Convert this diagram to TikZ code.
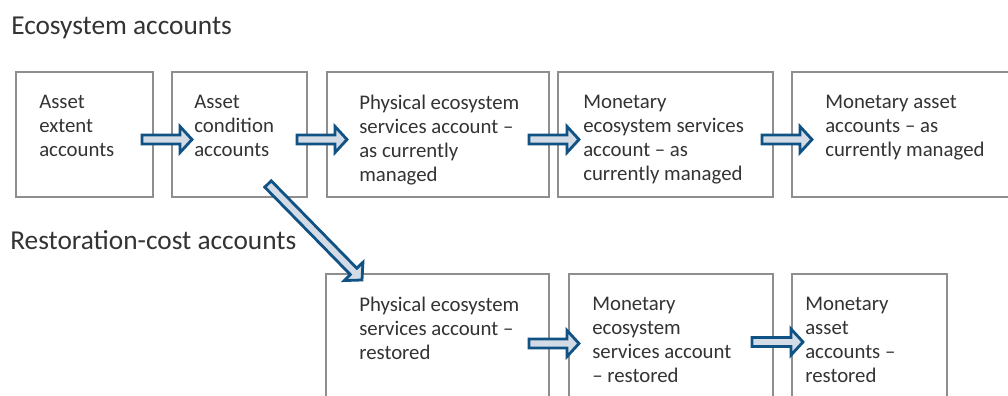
\documentclass[tikz,border=0pt]{standalone}
\usepackage{fontspec}
\setmainfont{Carlito}
\usetikzlibrary{calc,fit}
\definecolor{boxgray}{HTML}{8E8E8E}
\definecolor{arrblue}{HTML}{0F5283}
\definecolor{arrfill}{HTML}{D3DCE6}
\definecolor{txtcol}{HTML}{333333}
\newcommand\myblockarrow[2]{%
  \coordinate (hb) at ($(#2)!9pt!(#1)$);
  \draw[barrow] ($(#1)!3.4pt!90:(#2)$) -- ($(hb)!3.4pt!90:(#2)$) -- ($(hb)!9.8pt!90:(#2)$)
    -- (#2) -- ($(hb)!9.8pt!-90:(#2)$) -- ($(hb)!3.4pt!-90:(#2)$) -- ($(#1)!3.4pt!-90:(#2)$) -- cycle;
}
\begin{document}
\begin{tikzpicture}[x=0.75pt,y=-0.75pt,
  box/.style={draw=boxgray, line width=1.7pt, inner sep=0pt},
  lbl/.style={anchor=north west, align=left, inner sep=0pt, font=\fontsize{15.6}{18}\selectfont, text=txtcol},
  heading/.style={anchor=base west, inner sep=0pt, font=\fontsize{20.5}{24}\selectfont, text=txtcol},
  barrow/.style={draw=arrblue, fill=arrfill, line width=2.1pt, line join=miter}]
\useasboundingbox (0,0) rectangle (1008,396);
\clip (0,0) rectangle (1008,396);
\fill[white] (0,0) rectangle (1008,396);

\node[heading] (h1) at (11,35) {Ecosystem accounts};
\node[heading] (h2) at (10,249) {Restoration-cost accounts};

\node[box, fit={(16,72) (153,197)}] (b1) {};
\node[box, fit={(172,72) (307,197)}] (b2) {};
\node[box, fit={(327,72) (549,197)}] (b3) {};
\node[box, fit={(558,72) (773,197)}] (b4) {};
\node[box, fit={(792,72) (1030,197)}] (b5) {};
\node[box, fit={(326,274) (549,420)}] (b6) {};
\node[box, fit={(569,274) (773,420)}] (b7) {};
\node[box, fit={(792,274) (947,420)}] (b8) {};

\coordinate (a1s) at (142,139.5); \coordinate (a1e) at (192,139.5);
\coordinate (a2s) at (297,139.5); \coordinate (a2e) at (347,139.5);
\coordinate (a3s) at (529,139.5); \coordinate (a3e) at (579,139.5);
\coordinate (a4s) at (762,139.5); \coordinate (a4e) at (812,139.5);
\coordinate (a5s) at (529,343.5); \coordinate (a5e) at (579,343.5);
\coordinate (a6s) at (752,342); \coordinate (a6e) at (803,342);
\coordinate (d1s) at (268,184); \coordinate (d1e) at (362,280);

\myblockarrow{a1s}{a1e}
\myblockarrow{a2s}{a2e}
\myblockarrow{a3s}{a3e}
\myblockarrow{a4s}{a4e}
\myblockarrow{a5s}{a5e}
\myblockarrow{a6s}{a6e}
\myblockarrow{d1s}{d1e}

\node[lbl] (t1) at (39,95) {Asset\\extent\\accounts};
\node[lbl] (t2) at (194,95) {Asset\\condition\\accounts};
\node[lbl] (t3) at (359,95) {Physical ecosystem\\services account --\\as currently\\managed};
\node[lbl] (t4) at (583,95) {Monetary\\ecosystem services\\account -- as\\currently managed};
\node[lbl] (t5) at (825,95) {Monetary asset\\accounts -- as\\currently managed};
\node[lbl] (t6) at (359,297) {Physical ecosystem\\services account --\\restored};
\node[lbl] (t7) at (592,297) {Monetary\\ecosystem\\services account\\-- restored};
\node[lbl] (t8) at (805,297) {Monetary\\asset\\accounts --\\restored};
\end{tikzpicture}
\end{document}
